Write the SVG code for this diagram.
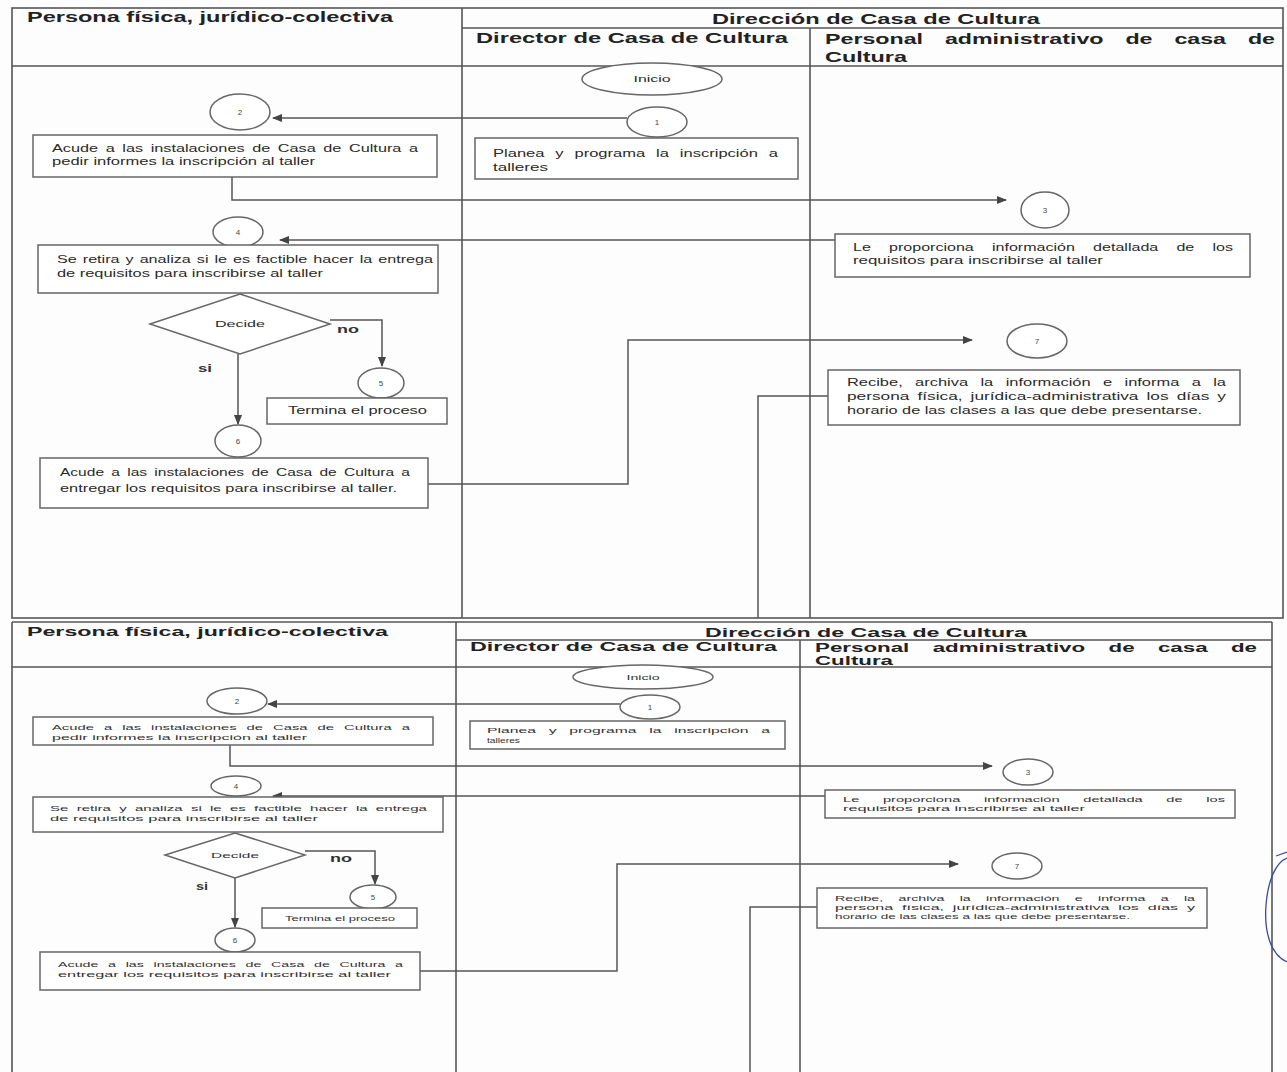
<svg xmlns="http://www.w3.org/2000/svg" width="1287" height="1072" viewBox="0 0 1287 1072">
<style>
.frame{fill:none;stroke:#555;stroke-width:1.6}
.box{fill:#fff;stroke:#666;stroke-width:1.5}
.conn{fill:none;stroke:#555;stroke-width:1.5}
.hd{font-family:"Liberation Sans",Arial,sans-serif;font-weight:bold;fill:#222}
.t{font-family:"Liberation Sans",Arial,sans-serif;fill:#2a2a2a}
.t1{font-size:10.5px}
.t2{font-size:8.5px}
.t3{font-size:7.5px;fill:#333}
.n{font-family:"Liberation Sans",Arial,sans-serif;font-size:8px;fill:#444}
.lbl{font-family:"Liberation Sans",Arial,sans-serif;font-weight:bold;fill:#333}
</style>
<defs>
<marker id="ah" viewBox="0 0 10 10" refX="9" refY="5" markerWidth="7" markerHeight="7" orient="auto">
<path d="M0,1 L10,5 L0,9 z" fill="#444"/>
</marker>
</defs>
<rect width="1287" height="1072" fill="#fdfdfd"/>

<!-- ============ TOP COPY ============ -->
<g id="lanes-top">
<rect class="frame" x="12" y="8" width="1271" height="610"/>
<line class="frame" x1="12" y1="66" x2="1283" y2="66"/>
<line class="frame" x1="462" y1="8" x2="462" y2="618"/>
<line class="frame" x1="462" y1="28" x2="1283" y2="28"/>
<line class="frame" x1="810" y1="28" x2="810" y2="618"/>
<text class="hd" x="27" y="22" font-size="15" textLength="366" lengthAdjust="spacingAndGlyphs">Persona física, jurídico-colectiva</text>
<text class="hd" x="712" y="24" font-size="15" textLength="328" lengthAdjust="spacingAndGlyphs">Dirección de Casa de Cultura</text>
<text class="hd" x="476" y="43" font-size="15" textLength="312" lengthAdjust="spacingAndGlyphs">Director de Casa de Cultura</text>
<text class="hd" x="825" y="44" font-size="15" word-spacing="10" textLength="450" lengthAdjust="spacingAndGlyphs">Personal administrativo de casa de</text>
<text class="hd" x="825" y="62" font-size="15" textLength="82" lengthAdjust="spacingAndGlyphs">Cultura</text>
</g>

<g id="connectors-top">
<line class="conn" x1="627" y1="118" x2="273" y2="118" marker-end="url(#ah)"/>
<polyline class="conn" points="232,177 232,200 1006,200" marker-end="url(#ah)"/>
<line class="conn" x1="835" y1="240" x2="280" y2="240" marker-end="url(#ah)"/>
<polyline class="conn" points="330,320 382,320 382,366" marker-end="url(#ah)"/>
<line class="conn" x1="238" y1="354" x2="238" y2="424" marker-end="url(#ah)"/>
<polyline class="conn" points="428,484 628,484 628,340 972,340" marker-end="url(#ah)"/>
<polyline class="conn" points="828,396 758,396 758,618"/>
</g>

<g id="inicio-top"><ellipse class="box" cx="652" cy="79" rx="70" ry="16"/><text class="t t2" x="652" y="82" text-anchor="middle" textLength="37" lengthAdjust="spacingAndGlyphs">Inicio</text></g>
<g id="c1-top"><ellipse class="box" cx="657" cy="122" rx="30" ry="15"/><text class="n" x="657" y="125" text-anchor="middle">1</text></g>
<g id="planea-top"><rect class="box" x="475" y="138" width="323" height="41"/>
<text class="t t1" x="493" y="157" word-spacing="4" textLength="285" lengthAdjust="spacingAndGlyphs">Planea y programa la inscripción a</text>
<text class="t t1" x="493" y="171" textLength="55" lengthAdjust="spacingAndGlyphs">talleres</text></g>
<g id="c2-top"><ellipse class="box" cx="240" cy="112" rx="30" ry="18"/><text class="n" x="240" y="115" text-anchor="middle">2</text></g>
<g id="acude1-top"><rect class="box" x="33" y="135" width="404" height="42"/>
<text class="t t1" x="52" y="152" word-spacing="2" textLength="366" lengthAdjust="spacingAndGlyphs">Acude a las instalaciones de Casa de Cultura a</text>
<text class="t t1" x="52" y="165" textLength="263" lengthAdjust="spacingAndGlyphs">pedir informes la inscripción al taller</text></g>
<g id="c3-top"><ellipse class="box" cx="1045" cy="210" rx="24" ry="18"/><text class="n" x="1045" y="213" text-anchor="middle">3</text></g>
<g id="prop-top"><rect class="box" x="835" y="234" width="415" height="43"/>
<text class="t t1" x="853" y="251" word-spacing="9" textLength="380" lengthAdjust="spacingAndGlyphs">Le proporciona información detallada de los</text>
<text class="t t1" x="853" y="264" textLength="250" lengthAdjust="spacingAndGlyphs">requisitos para inscribirse al taller</text></g>
<g id="c4-top"><ellipse class="box" cx="238" cy="232" rx="25" ry="15"/><text class="n" x="238" y="235" text-anchor="middle">4</text></g>
<g id="retira-top"><rect class="box" x="38" y="245" width="400" height="48"/>
<text class="t t1" x="57" y="263" word-spacing="1" textLength="376" lengthAdjust="spacingAndGlyphs">Se retira y analiza si le es factible hacer la entrega</text>
<text class="t t1" x="57" y="277" textLength="266" lengthAdjust="spacingAndGlyphs">de requisitos para inscribirse al taller</text></g>
<g id="decide-top"><polygon class="box" points="240,294 330,324 240,354 150,324"/><text class="t t2" x="240" y="327" text-anchor="middle" textLength="50" lengthAdjust="spacingAndGlyphs">Decide</text></g>
<text class="lbl" x="337" y="333" font-size="11" textLength="22" lengthAdjust="spacingAndGlyphs">no</text>
<text class="lbl" x="198" y="372" font-size="11" textLength="14" lengthAdjust="spacingAndGlyphs">si</text>
<g id="c5-top"><ellipse class="box" cx="381" cy="383" rx="23" ry="15"/><text class="n" x="381" y="386" text-anchor="middle">5</text></g>
<g id="termina-top"><rect class="box" x="267" y="398" width="180" height="26"/><text class="t t1" x="288" y="414" textLength="139" lengthAdjust="spacingAndGlyphs">Termina el proceso</text></g>
<g id="c6-top"><ellipse class="box" cx="238" cy="441" rx="23" ry="16"/><text class="n" x="238" y="444" text-anchor="middle">6</text></g>
<g id="acude2-top"><rect class="box" x="40" y="458" width="388" height="50"/>
<text class="t t1" x="60" y="476" word-spacing="2" textLength="350" lengthAdjust="spacingAndGlyphs">Acude a las instalaciones de Casa de Cultura a</text>
<text class="t t1" x="60" y="492" textLength="337" lengthAdjust="spacingAndGlyphs">entregar los requisitos para inscribirse al taller.</text></g>
<g id="c7-top"><ellipse class="box" cx="1037" cy="341" rx="30" ry="17"/><text class="n" x="1037" y="344" text-anchor="middle">7</text></g>
<g id="recibe-top"><rect class="box" x="828" y="370" width="412" height="55"/>
<text class="t t1" x="847" y="386" word-spacing="5" textLength="379" lengthAdjust="spacingAndGlyphs">Recibe, archiva la información e informa a la</text>
<text class="t t1" x="847" y="400" word-spacing="2" textLength="379" lengthAdjust="spacingAndGlyphs">persona física, jurídica-administrativa los días y</text>
<text class="t t1" x="847" y="414" textLength="355" lengthAdjust="spacingAndGlyphs">horario de las clases a las que debe presentarse.</text></g>

<!-- ============ BOTTOM COPY ============ -->
<g id="lanes-bottom">
<line class="frame" x1="12" y1="622" x2="1272" y2="622"/>
<line class="frame" x1="12" y1="622" x2="12" y2="1072"/>
<line class="frame" x1="1272" y1="622" x2="1272" y2="1072"/>
<line class="frame" x1="12" y1="667" x2="1272" y2="667"/>
<line class="frame" x1="456" y1="622" x2="456" y2="1072"/>
<line class="frame" x1="456" y1="640" x2="1272" y2="640"/>
<line class="frame" x1="800" y1="640" x2="800" y2="1072"/>
<text class="hd" x="27" y="636" font-size="13" textLength="361" lengthAdjust="spacingAndGlyphs">Persona física, jurídico-colectiva</text>
<text class="hd" x="705" y="637" font-size="13" textLength="322" lengthAdjust="spacingAndGlyphs">Dirección de Casa de Cultura</text>
<text class="hd" x="470" y="651" font-size="13" textLength="307" lengthAdjust="spacingAndGlyphs">Director de Casa de Cultura</text>
<text class="hd" x="815" y="652" font-size="13" word-spacing="10" textLength="442" lengthAdjust="spacingAndGlyphs">Personal administrativo de casa de</text>
<text class="hd" x="815" y="665" font-size="13" textLength="78" lengthAdjust="spacingAndGlyphs">Cultura</text>
</g>

<g id="connectors-bottom">
<line class="conn" x1="620" y1="704" x2="268" y2="704" marker-end="url(#ah)"/>
<polyline class="conn" points="230,745 230,766 992,766" marker-end="url(#ah)"/>
<line class="conn" x1="825" y1="796" x2="273" y2="796" marker-end="url(#ah)"/>
<polyline class="conn" points="305,851 375,851 375,884" marker-end="url(#ah)"/>
<line class="conn" x1="235" y1="878" x2="235" y2="927" marker-end="url(#ah)"/>
<polyline class="conn" points="420,971 617,971 617,864 958,864" marker-end="url(#ah)"/>
<polyline class="conn" points="817,907 750,907 750,1072"/>
</g>

<g id="inicio-bottom"><ellipse class="box" cx="643" cy="677" rx="70" ry="12"/><text class="t t3" x="643" y="680" text-anchor="middle" textLength="33" lengthAdjust="spacingAndGlyphs">Inicio</text></g>
<g id="c1-bottom"><ellipse class="box" cx="650" cy="707" rx="30" ry="12"/><text class="n" x="650" y="710" text-anchor="middle">1</text></g>
<g id="planea-bottom"><rect class="box" x="470" y="721" width="315" height="28"/>
<text class="t t3" x="487" y="733" word-spacing="4" textLength="283" lengthAdjust="spacingAndGlyphs">Planea y programa la inscripción a</text>
<text class="t t3" x="487" y="743" textLength="33" lengthAdjust="spacingAndGlyphs">talleres</text></g>
<g id="c2-bottom"><ellipse class="box" cx="237" cy="701" rx="30" ry="13"/><text class="n" x="237" y="704" text-anchor="middle">2</text></g>
<g id="acude1-bottom"><rect class="box" x="33" y="717" width="400" height="28"/>
<text class="t t3" x="52" y="730" word-spacing="3" textLength="358" lengthAdjust="spacingAndGlyphs">Acude a las instalaciones de Casa de Cultura a</text>
<text class="t t3" x="52" y="740" textLength="255" lengthAdjust="spacingAndGlyphs">pedir informes la inscripción al taller</text></g>
<g id="c3-bottom"><ellipse class="box" cx="1028" cy="772" rx="25" ry="13"/><text class="n" x="1028" y="775" text-anchor="middle">3</text></g>
<g id="prop-bottom"><rect class="box" x="825" y="790" width="410" height="28"/>
<text class="t t3" x="843" y="802" word-spacing="10" textLength="382" lengthAdjust="spacingAndGlyphs">Le proporciona información detallada de los</text>
<text class="t t3" x="843" y="811" textLength="242" lengthAdjust="spacingAndGlyphs">requisitos para inscribirse al taller</text></g>
<g id="c4-bottom"><ellipse class="box" cx="236" cy="786" rx="25" ry="10"/><text class="n" x="236" y="789" text-anchor="middle">4</text></g>
<g id="retira-bottom"><rect class="box" x="33" y="797" width="410" height="35"/>
<text class="t t3" x="50" y="811" word-spacing="2" textLength="377" lengthAdjust="spacingAndGlyphs">Se retira y analiza si le es factible hacer la entrega</text>
<text class="t t3" x="50" y="821" textLength="268" lengthAdjust="spacingAndGlyphs">de requisitos para inscribirse al taller</text></g>
<g id="decide-bottom"><polygon class="box" points="235,833 305,855 235,878 165,855"/><text class="t t3" x="235" y="858" text-anchor="middle" textLength="48" lengthAdjust="spacingAndGlyphs">Decide</text></g>
<text class="lbl" x="330" y="862" font-size="10" textLength="22" lengthAdjust="spacingAndGlyphs">no</text>
<text class="lbl" x="196" y="890" font-size="10" textLength="12" lengthAdjust="spacingAndGlyphs">si</text>
<g id="c5-bottom"><ellipse class="box" cx="373" cy="897" rx="23" ry="12"/><text class="n" x="373" y="900" text-anchor="middle">5</text></g>
<g id="termina-bottom"><rect class="box" x="262" y="908" width="155" height="20"/><text class="t t3" x="285" y="921" textLength="110" lengthAdjust="spacingAndGlyphs">Termina el proceso</text></g>
<g id="c6-bottom"><ellipse class="box" cx="235" cy="940" rx="20" ry="12"/><text class="n" x="235" y="943" text-anchor="middle">6</text></g>
<g id="acude2-bottom"><rect class="box" x="40" y="952" width="380" height="38"/>
<text class="t t3" x="58" y="967" word-spacing="3" textLength="345" lengthAdjust="spacingAndGlyphs">Acude a las instalaciones de Casa de Cultura a</text>
<text class="t t3" x="58" y="977" textLength="333" lengthAdjust="spacingAndGlyphs">entregar los requisitos para inscribirse al taller</text></g>
<g id="c7-bottom"><ellipse class="box" cx="1017" cy="866" rx="25" ry="13"/><text class="n" x="1017" y="869" text-anchor="middle">7</text></g>
<g id="recibe-bottom"><rect class="box" x="817" y="888" width="390" height="40"/>
<text class="t t3" x="835" y="901" word-spacing="6" textLength="360" lengthAdjust="spacingAndGlyphs">Recibe, archiva la información e informa a la</text>
<text class="t t3" x="835" y="910" word-spacing="2" textLength="360" lengthAdjust="spacingAndGlyphs">persona física, jurídica-administrativa los días y</text>
<text class="t t3" x="835" y="919" textLength="295" lengthAdjust="spacingAndGlyphs">horario de las clases a las que debe presentarse.</text></g>

<!-- handwritten pen mark -->
<path d="M1287,858 C1276,862 1268,880 1266,905 C1264,930 1270,955 1287,962" fill="none" stroke="#3a4aa0" stroke-width="1.3"/>
<path d="M1276,856 L1287,852" fill="none" stroke="#3a4aa0" stroke-width="1.2"/>
</svg>
